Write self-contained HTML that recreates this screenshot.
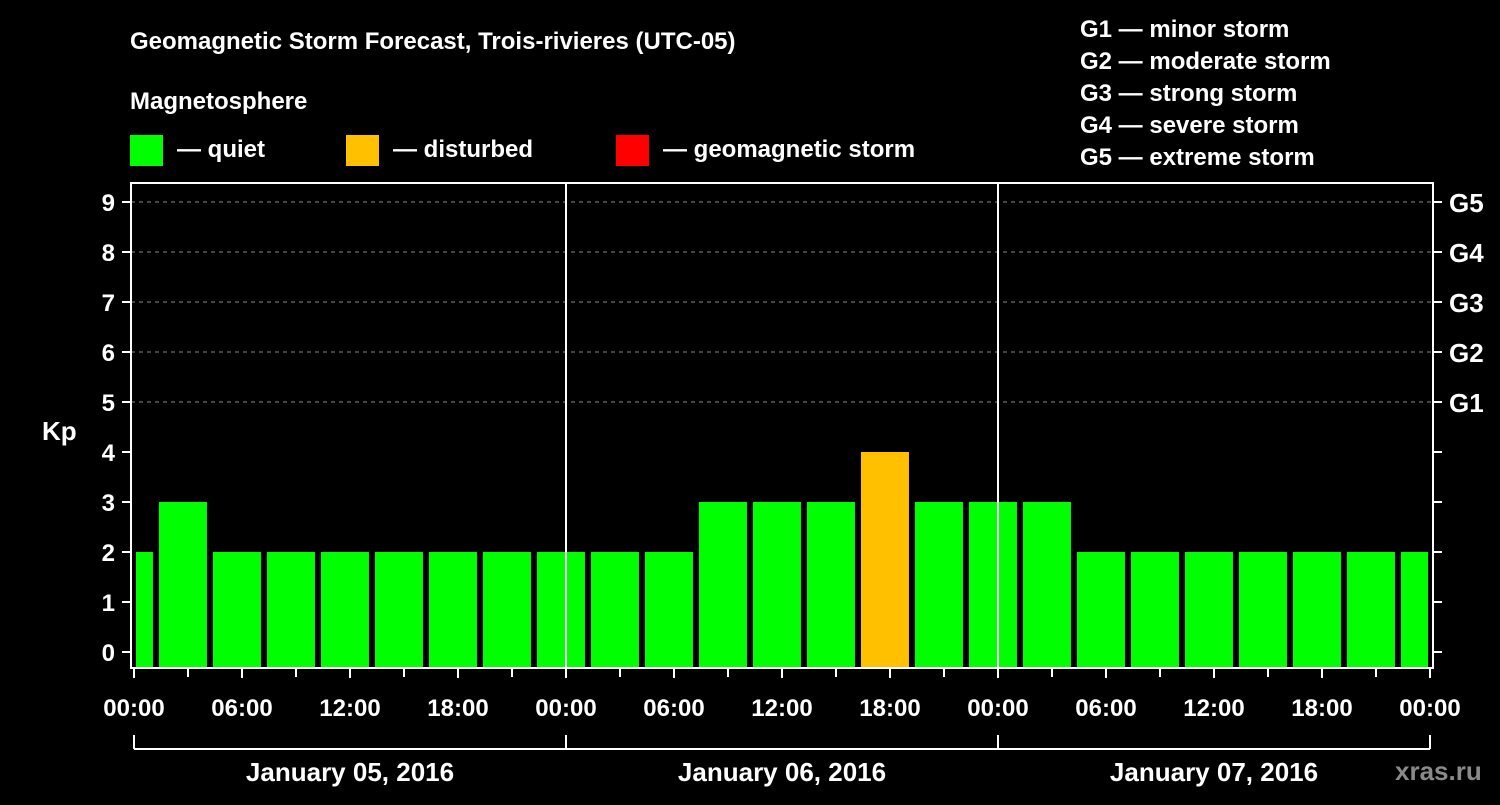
<!DOCTYPE html>
<html><head><meta charset="utf-8"><style>
html,body{margin:0;padding:0;background:#000;}
svg text{font-family:"Liberation Sans",Arial,sans-serif;font-weight:bold;fill:#fff;}
</style></head><body>
<svg id="chart" width="1500" height="800" viewBox="0 0 1500 800" xmlns="http://www.w3.org/2000/svg">
<rect width="1500" height="800" fill="#000"/>
<text x="130" y="49" font-size="24">Geomagnetic Storm Forecast, Trois-rivieres (UTC-05)</text>
<text x="130" y="109" font-size="24">Magnetosphere</text>
<g><rect x="130" y="135" width="33" height="31" fill="#00ff00"/><text x="177" y="157" font-size="24">— quiet</text></g>
<g><rect x="346" y="135" width="33" height="31" fill="#ffc000"/><text x="393" y="157" font-size="24">— disturbed</text></g>
<g><rect x="616" y="135" width="33" height="31" fill="#ff0000"/><text x="663" y="157" font-size="24">— geomagnetic storm</text></g>
<g font-size="24">
<text x="1080" y="37">G1 — minor storm</text>
<text x="1080" y="69">G2 — moderate storm</text>
<text x="1080" y="101">G3 — strong storm</text>
<text x="1080" y="133">G4 — severe storm</text>
<text x="1080" y="165">G5 — extreme storm</text>
</g>
<text x="42" y="440" font-size="26">Kp</text>
<g id="plot"></g>
<text x="1395" y="780" font-size="26" fill="#888" style="fill:#8a8a8a">xras.ru</text>
</svg>
<script>
const kpValues=[2,3,2,2,2,2,2,2,2,2,2,3,3,3,4,3,3,3,2,2,2,2,2,2,2];
const yTicks=[0,1,2,3,4,5,6,7,8,9];
const gLabels=["G1","G2","G3","G4","G5"];
const hourLabels=["00:00","06:00","12:00","18:00","00:00","06:00","12:00","18:00","00:00","06:00","12:00","18:00","00:00"];
const dayLabels=["January 05, 2016","January 06, 2016","January 07, 2016"];
const firstBarHour=-1.78, barStepHours=3;
const NS="http://www.w3.org/2000/svg";
const L=131,R=1433,T=183,B=668;
const x=h=>134+18*h;
const y=v=>652-50*v;
const g=document.getElementById('plot');
function mk(tag,attrs,parent){const e=document.createElementNS(NS,tag);for(const k in attrs)e.setAttribute(k,attrs[k]);(parent||g).appendChild(e);return e;}
// bars
const clip=mk('clipPath',{id:'pc'});mk('rect',{x:136,y:T,width:1292,height:B-T},clip);
const bars=mk('g',{'clip-path':'url(#pc)'});
kpValues.forEach((v,i)=>{
  const h0=firstBarHour+i*barStepHours;
  const col=v>=5?'#ff0000':(v>=4?'#ffc000':'#00ff00');
  const r=mk('rect',{x:x(h0)+3,y:y(v),width:48,height:B-y(v),fill:col},bars);
  
  
});
// grid
gLabels.forEach((lab,i)=>{
  const v=5+i;
  const ln=mk('line',{x1:L,x2:R,y1:y(v),y2:y(v),stroke:'#888','stroke-dasharray':'4,4','stroke-width':1});
  
  
  const t=mk('text',{x:1449,y:y(v)+10,'font-size':26});t.textContent=lab;
  
  
});
// day separators
[24,48].forEach(h=>{mk('line',{x1:x(h),x2:x(h),y1:T,y2:B,stroke:'#fff','stroke-width':2});});
// frame
const fr=mk('rect',{x:L,y:T,width:R-L,height:B-T,fill:'none',stroke:'#fff','stroke-width':2});


yTicks.forEach(v=>{
  mk('line',{x1:122,x2:L,y1:y(v),y2:y(v),stroke:'#fff','stroke-width':2});
  mk('line',{x1:R,x2:1442,y1:y(v),y2:y(v),stroke:'#fff','stroke-width':2});
  const t=mk('text',{x:115,y:y(v)+9,'font-size':24,'text-anchor':'end'});t.textContent=v;
  
  
});
for(let h=0;h<=72;h+=3){mk('line',{x1:x(h),x2:x(h),y1:B,y2:h%6===0?678:677,stroke:'#fff','stroke-width':2});}
hourLabels.forEach((lab,i)=>{
  const t=mk('text',{x:x(i*6),y:716,'font-size':24,'text-anchor':'middle'});t.textContent=lab;
  
  
});
mk('line',{x1:x(0),x2:x(72),y1:749,y2:749,stroke:'#fff','stroke-width':2});
[0,24,48,72].forEach(h=>mk('line',{x1:x(h),x2:x(h),y1:735,y2:749,stroke:'#fff','stroke-width':2}));
dayLabels.forEach((lab,i)=>{
  const t=mk('text',{x:x(i*24+12),y:781,'font-size':26,'text-anchor':'middle'});t.textContent=lab;
  
  
});
</script>
</body></html>
